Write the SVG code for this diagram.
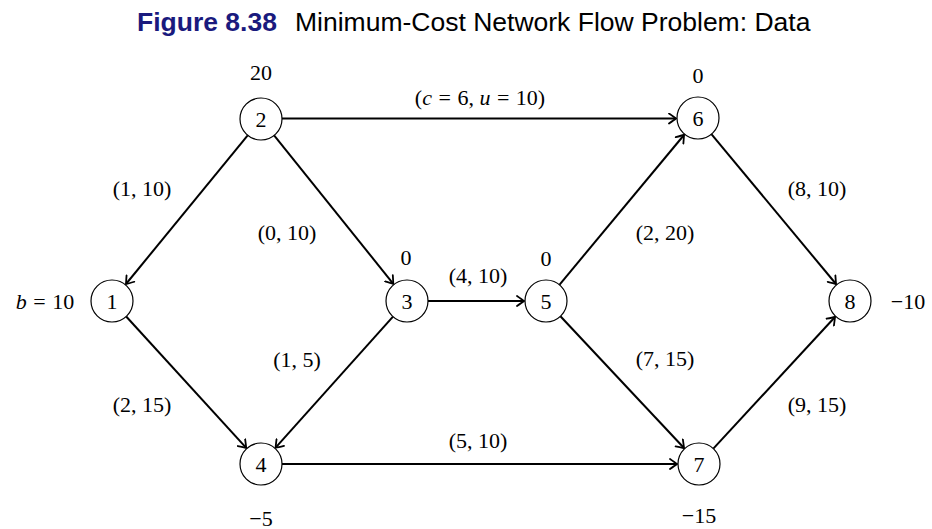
<svg xmlns="http://www.w3.org/2000/svg" width="932" height="529" viewBox="0 0 932 529">
<style>
.node circle{fill:#fff;stroke:#000;stroke-width:1.2}
.node text,.lbl{font-family:"Liberation Serif","DejaVu Serif",serif;font-size:22px;fill:#000;text-anchor:middle;dominant-baseline:central}
.edge{stroke:#000;stroke-width:2;fill:none;marker-end:url(#arr)}
.title{font-family:"Liberation Sans",Arial,sans-serif;font-size:26.5px}
.it{font-style:italic}
</style>
<defs>
<marker id="arr" viewBox="-8 -6 10 12" refX="0" refY="0" markerWidth="10" markerHeight="12" markerUnits="userSpaceOnUse" orient="auto">
<path d="M-7,-5 Q-2,-1.5 0,0 Q-2,1.5 -7,5" fill="none" stroke="#000" stroke-width="1.8" stroke-linecap="round"/>
</marker>
</defs>
<rect width="932" height="529" fill="#fff"/>
<text class="title" x="137" y="31" font-weight="bold" fill="#1a1a7e">Figure 8.38</text>
<text class="title" x="295" y="31" fill="#000">Minimum-Cost Network Flow Problem: Data</text>
<g id="edges">
<line class="edge" x1="247.7" y1="135.3" x2="126" y2="284"/>
<line class="edge" x1="274.1" y1="135.4" x2="393.3" y2="283.8"/>
<line class="edge" x1="282" y1="118.5" x2="676" y2="118.5"/>
<line class="edge" x1="428" y1="301" x2="524" y2="301"/>
<line class="edge" x1="559.4" y1="284.8" x2="684" y2="135"/>
<line class="edge" x1="711.4" y1="134.2" x2="836" y2="284"/>
<line class="edge" x1="126.2" y1="316.5" x2="246.2" y2="447.8"/>
<line class="edge" x1="393" y1="316.6" x2="275.6" y2="447.7"/>
<line class="edge" x1="282" y1="464" x2="677" y2="464"/>
<line class="edge" x1="560.4" y1="316.3" x2="684" y2="448"/>
<line class="edge" x1="713.3" y1="448.6" x2="835" y2="317"/>
</g>
<g id="node1" class="node"><circle cx="112" cy="301" r="21"/><text x="112" y="301">1</text></g>
<g id="node2" class="node"><circle cx="261" cy="119" r="21"/><text x="261" y="119">2</text></g>
<g id="node3" class="node"><circle cx="407" cy="301" r="21"/><text x="407" y="301">3</text></g>
<g id="node4" class="node"><circle cx="261" cy="464" r="21"/><text x="261" y="464">4</text></g>
<g id="node5" class="node"><circle cx="546" cy="301" r="21"/><text x="546" y="301">5</text></g>
<g id="node6" class="node"><circle cx="698" cy="118" r="21"/><text x="698" y="118">6</text></g>
<g id="node7" class="node"><circle cx="699" cy="464" r="21"/><text x="699" y="464">7</text></g>
<g id="node8" class="node"><circle cx="850" cy="301" r="21"/><text x="850" y="301">8</text></g>
<g id="labels">
<text class="lbl" x="480" y="97" xml:space="preserve">(<tspan class="it">c</tspan> <tspan dx="1">=</tspan> <tspan dx="1">6,</tspan> <tspan class="it">u</tspan> <tspan dx="1">=</tspan> <tspan dx="1">10)</tspan></text>
<text class="lbl" x="261" y="72">20</text>
<text class="lbl" x="698" y="75">0</text>
<text class="lbl" x="142" y="188">(1, 10)</text>
<text class="lbl" x="287" y="232">(0, 10)</text>
<text class="lbl" x="406" y="257">0</text>
<text class="lbl" x="478" y="275">(4, 10)</text>
<text class="lbl" x="546" y="258">0</text>
<text class="lbl" x="665" y="232">(2, 20)</text>
<text class="lbl" x="817" y="188">(8, 10)</text>
<text class="lbl" x="45" y="301" xml:space="preserve"><tspan class="it">b</tspan> <tspan dx="1">=</tspan> <tspan dx="1">10</tspan></text>
<text class="lbl" x="908" y="301">−10</text>
<text class="lbl" x="297" y="359">(1, 5)</text>
<text class="lbl" x="665" y="358">(7, 15)</text>
<text class="lbl" x="142" y="404">(2, 15)</text>
<text class="lbl" x="817" y="404">(9, 15)</text>
<text class="lbl" x="478" y="440">(5, 10)</text>
<text class="lbl" x="261" y="518">−5</text>
<text class="lbl" x="699" y="515">−15</text>
</g>
</svg>
